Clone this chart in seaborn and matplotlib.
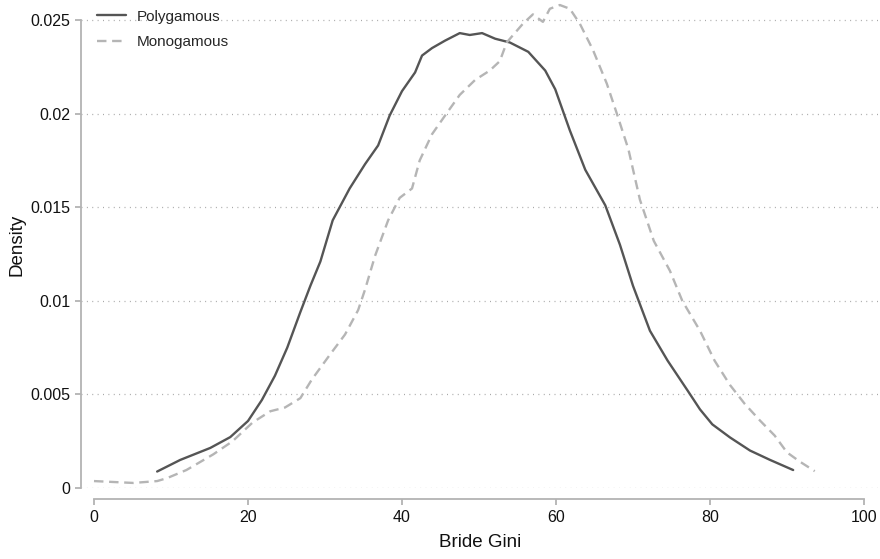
import numpy as np
import pandas as pd
import matplotlib
matplotlib.use("Agg")
import matplotlib.pyplot as plt
import seaborn as sns

# Kernel density of bride Gini, by marriage type
poly_x = [8.2, 11.2, 15.1, 17.7, 20.0, 21.8, 23.5, 25.1, 26.8, 28.1, 29.4, 31.0,
          33.2, 35.2, 36.9, 38.4, 40.0, 41.7, 42.6, 43.9, 45.6, 47.5, 48.8, 50.4,
          52.1, 54.0, 56.4, 58.6, 59.9, 61.8, 63.8, 66.4, 68.3, 70.0, 72.2, 74.5,
          77.1, 78.7, 80.3, 82.6, 85.2, 87.8, 90.8]
poly_y = [0.00088, 0.0015, 0.00214, 0.00272, 0.00358, 0.0047, 0.0060, 0.0075,
          0.0094, 0.0108, 0.0121, 0.0143, 0.0160, 0.0173, 0.0183, 0.0199, 0.0212,
          0.0222, 0.0231, 0.0235, 0.0239, 0.0243, 0.0242, 0.0243, 0.0240, 0.0238,
          0.0233, 0.0223, 0.0213, 0.0191, 0.0170, 0.0151, 0.0130, 0.0108, 0.0084,
          0.0068, 0.0052, 0.0042, 0.0034, 0.0027, 0.0020, 0.0015, 0.00096]

mono_x = [0.0, 5.1, 8.2, 9.5, 12.0, 15.5, 18.0, 20.6, 22.9, 24.8, 26.8, 28.3,
          30.6, 32.6, 34.3, 35.2, 36.5, 38.2, 39.7, 41.3, 42.3, 43.9, 45.6, 47.5,
          49.5, 51.4, 52.7, 53.6, 55.7, 57.0, 58.3, 59.2, 60.5, 61.8, 63.1, 64.8,
          66.6, 67.9, 69.4, 70.9, 72.7, 74.8, 76.4, 78.7, 80.6, 82.6, 84.5, 86.5,
          88.4, 90.0, 91.7, 93.6]
mono_y = [0.00037, 0.00027, 0.00037, 0.00053, 0.00096, 0.0018, 0.0025, 0.0035,
          0.0041, 0.0043, 0.0048, 0.0058, 0.0071, 0.0082, 0.0095, 0.0106, 0.0124,
          0.0143, 0.0155, 0.0160, 0.0175, 0.0189, 0.0199, 0.0210, 0.0218, 0.0223,
          0.0228, 0.0238, 0.0248, 0.0253, 0.0249, 0.0256, 0.0258, 0.0256, 0.0248,
          0.0234, 0.0216, 0.0200, 0.0181, 0.0154, 0.0132, 0.0116, 0.0100, 0.0084,
          0.0068, 0.0055, 0.0045, 0.0036, 0.0028, 0.0019, 0.0014, 0.0009]

groups = ["Polygamous", "Monogamous"]
x_ticks = [0, 20, 40, 60, 80, 100]
y_ticks = [0, 0.005, 0.01, 0.015, 0.02, 0.025]
y_tick_labels = ["0", "0.005", "0.01", "0.015", "0.02", "0.025"]

df = pd.concat([
    pd.DataFrame({"gini": poly_x, "density": poly_y, "group": groups[0]}),
    pd.DataFrame({"gini": mono_x, "density": mono_y, "group": groups[1]}),
], ignore_index=True)

sns.set_theme(style="white")
plt.rcParams["font.family"] = ["Liberation Sans", "DejaVu Sans"]

axis_grey = "#b3b3b3"
fig = plt.figure(figsize=(8.8, 5.59), dpi=100)
ax = fig.add_axes([81 / 880, 1 - 488 / 559, 1 - 81 / 880, (488 - 2) / 559])

sns.lineplot(data=df, x="gini", y="density", hue="group", style="group",
             hue_order=groups, style_order=groups,
             palette={"Polygamous": "#555555", "Monogamous": "#b5b5b5"},
             dashes={"Polygamous": "", "Monogamous": (4, 2.4)},
             linewidth=1.7, sort=False, estimator=None, ax=ax)

ax.set_xlim(-13 / 7.7, -13 / 7.7 + 799 / 7.7)
ax.set_ylim(0, 486 / 468 * 0.025)

for yv in y_ticks:
    ax.axhline(yv, color="#a8a8a8", linestyle=(0, (0.8, 3.5)), linewidth=0.9, zorder=0)

ax.set_xticks(x_ticks)
ax.set_yticks(y_ticks)
ax.set_yticklabels(y_tick_labels)

for side in ["top", "right"]:
    ax.spines[side].set_visible(False)
ax.spines["left"].set_color(axis_grey)
ax.spines["bottom"].set_color(axis_grey)
ax.spines["left"].set_linewidth(1.3)
ax.spines["bottom"].set_linewidth(1.3)
ax.spines["bottom"].set_position(("outward", 8))
ax.spines["bottom"].set_bounds(0, 100)
ax.spines["left"].set_bounds(0, 0.025)

ax.tick_params(axis="both", which="major", direction="out", length=4.5, width=1.3,
               color=axis_grey, labelsize=11.5, labelcolor="#111111", left=True, bottom=True)
ax.tick_params(axis="x", pad=3.5)
ax.tick_params(axis="y", pad=3)

ax.set_xlabel("Bride Gini", fontsize=13.5, color="#111111", labelpad=6)
ax.set_ylabel("Density", fontsize=13.5, color="#111111", labelpad=4)

leg = ax.legend(loc="upper left", frameon=False, fontsize=11, title=None,
                handlelength=1.85, borderaxespad=0.0, bbox_to_anchor=(0.013, 0.997),
                labelspacing=0.75, handletextpad=0.7)

fig.savefig("out.png", dpi=100)
